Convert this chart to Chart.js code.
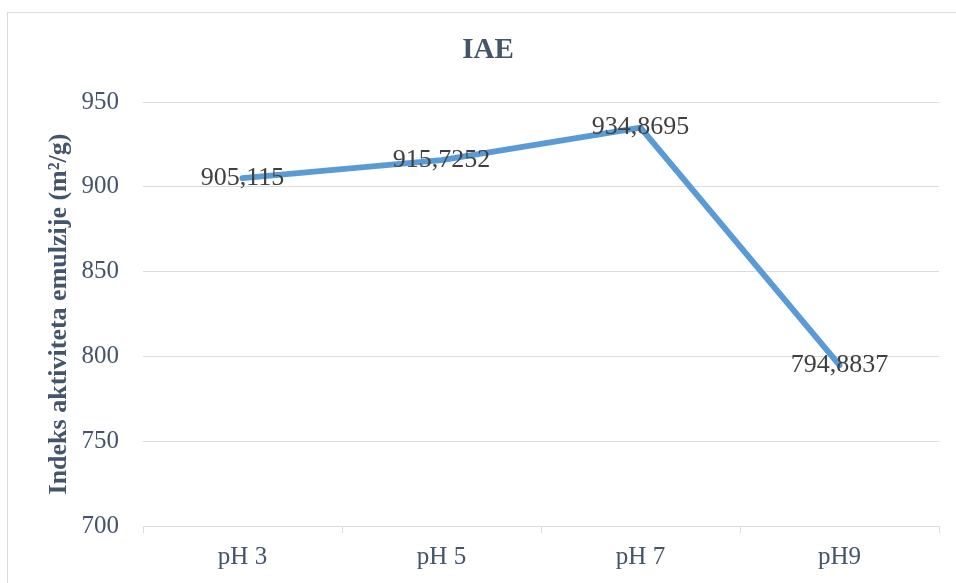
<!DOCTYPE html>
<html>
<head>
<meta charset="utf-8">
<script src="https://cdn.jsdelivr.net/npm/chart.js@4/dist/chart.umd.min.js"></script>
<style>
  html, body { margin: 0; padding: 0; background: #fff; }
  body { width: 956px; height: 583px; position: relative; overflow: hidden; }
  #frame { position: absolute; left: 7px; top: 12px; width: 1000px; height: 700px;
           border-left: 1px solid #D9DDE2; border-top: 1px solid #D9DDE2; }
  #chart { position: absolute; left: 0; top: 0; }
</style>
</head>
<body>
<div id="frame"></div>
<canvas id="chart" width="956" height="583"></canvas>
<script>
// IAE chart - data

const categories = ['pH 3', 'pH 5', 'pH 7', 'pH9'];
const iaeValues = [905.115, 915.7252, 934.8695, 794.8837];
const yTicks = [700, 750, 800, 850, 900, 950];
const chartTitle = 'IAE';

const TEXT = '#44546A';
const GRID = '#D9DDE2';
const FONT = "'Liberation Serif', 'Times New Roman', serif";

// value labels centred on each point, decimal comma
const pointLabels = {
  id: 'pointLabels',
  afterDatasetsDraw(chart) {
    const ctx = chart.ctx;
    const meta = chart.getDatasetMeta(0);
    ctx.save();
    ctx.font = `26px ${FONT}`;
    ctx.fillStyle = '#404040';
    ctx.textAlign = 'center';
    ctx.textBaseline = 'middle';
    meta.data.forEach((pt, i) => {
      ctx.fillText(String(iaeValues[i]).replace('.', ','), pt.x, pt.y);
    });
    ctx.restore();
  }
};

// title centred on the outer chart frame, not on the canvas
const frameTitle = {
  id: 'frameTitle',
  afterDraw(chart) {
    const ctx = chart.ctx;
    ctx.save();
    ctx.font = `bold 29px ${FONT}`;
    ctx.fillStyle = TEXT;
    ctx.textAlign = 'center';
    ctx.textBaseline = 'middle';
    ctx.fillText(chartTitle, 488, 51);
    ctx.restore();
  }
};

new Chart(document.getElementById('chart').getContext('2d'), {
  type: 'line',
  data: {
    labels: categories,
    datasets: [{
      label: chartTitle,
      data: iaeValues,
      borderColor: '#5B9BD5',
      borderWidth: 6,
      borderCapStyle: 'round',
      borderJoinStyle: 'round',
      pointRadius: 0,
      tension: 0,
      fill: false
    }]
  },
  plugins: [pointLabels, frameTitle],
  options: {
    responsive: false,
    animation: false,
    layout: { padding: { left: 0, right: 17, top: 102, bottom: 0 } },
    plugins: {
      legend: { display: false },
      tooltip: { enabled: false },
      title: { display: false }
    },
    scales: {
      x: {
        offset: true,
        grid: { offset: true, drawOnChartArea: false, drawTicks: true, tickLength: 7, color: GRID },
        border: { display: true, color: GRID },
        ticks: { color: TEXT, font: { family: FONT, size: 25 }, padding: 9 },
        afterFit: (s) => { s.height = 57; }
      },
      y: {
        min: yTicks[0],
        max: yTicks[yTicks.length - 1],
        afterBuildTicks: (s) => { s.ticks = yTicks.map(v => ({ value: v })); },
        grid: { color: GRID, lineWidth: 1, drawTicks: false },
        border: { display: false },
        ticks: { color: TEXT, font: { family: FONT, size: 25 }, padding: 24 },
        title: {
          display: true,
          text: 'Indeks aktiviteta emulzije (m²/g)',
          color: TEXT,
          font: { family: FONT, size: 26, weight: 'bold' },
          padding: { top: 44, bottom: 0 }
        },
        afterFit: (s) => { s.width = 143; }
      }
    }
  }
});
</script>
</body>
</html>
